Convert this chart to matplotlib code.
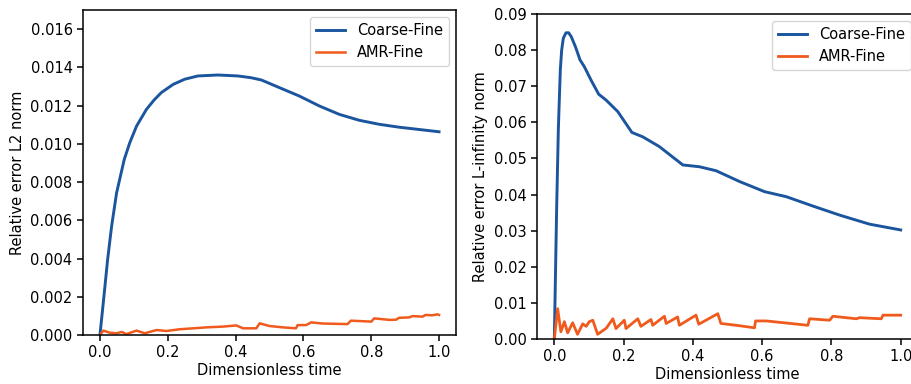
import matplotlib
matplotlib.use("Agg")
import matplotlib.pyplot as plt

# L2 norm, coarse vs fine
t_l2_coarse = [0.0, 0.0127, 0.0225, 0.0343, 0.049, 0.0716, 0.088, 0.108, 0.137, 0.16,
               0.181, 0.216, 0.25, 0.289, 0.348, 0.407, 0.445, 0.476, 0.529, 0.588,
               0.647, 0.706, 0.765, 0.824, 0.882, 0.941, 1.0]
l2_coarse = [0.0, 0.00219, 0.00393, 0.00568, 0.00743, 0.00918, 0.01006, 0.01093, 0.0118,
             0.0123, 0.01268, 0.01311, 0.01338, 0.01355, 0.0136, 0.01355, 0.01346, 0.01334,
             0.01294, 0.0125, 0.01198, 0.01154, 0.01123, 0.01102, 0.01087, 0.01075, 0.01063]

# L2 norm, AMR vs fine
t_l2_amr = [0.0, 0.01, 0.029, 0.049, 0.064, 0.078, 0.108, 0.132, 0.167, 0.196, 0.235,
            0.275, 0.314, 0.363, 0.402, 0.422, 0.461, 0.471, 0.5, 0.539, 0.578, 0.583,
            0.608, 0.623, 0.657, 0.73, 0.74, 0.8, 0.809, 0.853, 0.873, 0.882, 0.912,
            0.922, 0.951, 0.961, 0.98, 0.995, 1.0]
l2_amr = [0.0, 0.00023, 0.00012, 0.00009, 0.00016, 0.00005, 0.00023, 0.00009, 0.00026,
          0.00021, 0.0003, 0.00035, 0.0004, 0.00044, 0.0005, 0.00035, 0.00035, 0.00061,
          0.00047, 0.0004, 0.00035, 0.00052, 0.00052, 0.00066, 0.0006, 0.00057, 0.00075,
          0.0007, 0.00087, 0.00079, 0.0008, 0.0009, 0.00092, 0.00099, 0.00096, 0.00105,
          0.00103, 0.00108, 0.00105]

# L-infinity norm, coarse vs fine
t_linf_coarse = [0.0, 0.003, 0.0067, 0.0116, 0.0145, 0.0173, 0.0212, 0.026, 0.0337,
                 0.0414, 0.049, 0.0607, 0.0742, 0.0867, 0.106, 0.128, 0.149, 0.183,
                 0.224, 0.255, 0.303, 0.371, 0.419, 0.467, 0.535, 0.607, 0.670, 0.747,
                 0.824, 0.910, 1.0]
linf_coarse = [0.0, 0.016, 0.036, 0.058, 0.0665, 0.0745, 0.080, 0.0833, 0.0848,
               0.0848, 0.0837, 0.081, 0.0773, 0.0754, 0.0717, 0.0678, 0.0662, 0.063,
               0.0572, 0.0560, 0.0533, 0.0482, 0.0477, 0.0466, 0.0436, 0.0408, 0.0394,
               0.0368, 0.0343, 0.0318, 0.0302]

# L-infinity norm, AMR vs fine
t_linf_amr = [0.0, 0.0096, 0.019, 0.029, 0.0385, 0.053, 0.067, 0.082, 0.092, 0.101,
              0.111, 0.125, 0.15, 0.169, 0.178, 0.202, 0.207, 0.241, 0.25, 0.279, 0.284,
              0.318, 0.323, 0.356, 0.361, 0.409, 0.417, 0.472, 0.481, 0.525, 0.578,
              0.581, 0.612, 0.732, 0.737, 0.795, 0.804, 0.872, 0.881, 0.944, 0.949,
              0.978, 1.0]
linf_amr = [0.0, 0.0084, 0.002, 0.0048, 0.0017, 0.0045, 0.0013, 0.0042, 0.0035, 0.0048,
            0.0052, 0.0013, 0.003, 0.0056, 0.0029, 0.0052, 0.0029, 0.0056, 0.0035, 0.0054,
            0.0038, 0.0063, 0.0043, 0.0061, 0.0038, 0.0066, 0.0041, 0.007, 0.0043, 0.0038,
            0.0031, 0.005, 0.005, 0.0038, 0.0056, 0.0052, 0.0063, 0.0056, 0.0059, 0.0056,
            0.0066, 0.0066, 0.0066]

blue = "#1b559e"
orange = "#f05a1c"
fs = 10.5

plt.rcParams["font.family"] = "DejaVu Sans"
plt.rcParams["font.size"] = fs

fig = plt.figure(figsize=(9.11, 3.84), dpi=100)
ax1 = fig.add_axes([83 / 911, 49 / 384, 373 / 911, 325 / 384])
ax2 = fig.add_axes([537 / 911, 45 / 384, 381 / 911, 325 / 384])

ax1.plot(t_l2_coarse, l2_coarse, color=blue, lw=2.1, label="Coarse-Fine")
ax1.plot(t_l2_amr, l2_amr, color=orange, lw=1.8, label="AMR-Fine")
ax1.set_ylim(0, 0.017)
ax1.set_yticks([i * 0.002 for i in range(9)])
ax1.set_ylabel("Relative error L2 norm", fontsize=fs)

ax2.plot(t_linf_coarse, linf_coarse, color=blue, lw=2.1, label="Coarse-Fine")
ax2.plot(t_linf_amr, linf_amr, color=orange, lw=2.0, label="AMR-Fine")
ax2.set_ylim(0, 0.09)
ax2.set_yticks([i * 0.01 for i in range(10)])
ax2.set_ylabel("Relative error L-infinity norm", fontsize=fs)

for ax in (ax1, ax2):
    ax.set_xlim(-0.05, 1.05)
    ax.set_xticks([0.0, 0.2, 0.4, 0.6, 0.8, 1.0])
    ax.set_xlabel("Dimensionless time", fontsize=fs, labelpad=2)
    ax.tick_params(labelsize=fs, length=4, width=1.1)
    for s in ax.spines.values():
        s.set_linewidth(1.1)
    ax.legend(loc="upper right", fontsize=fs)

fig.savefig("out.png", dpi=100)
